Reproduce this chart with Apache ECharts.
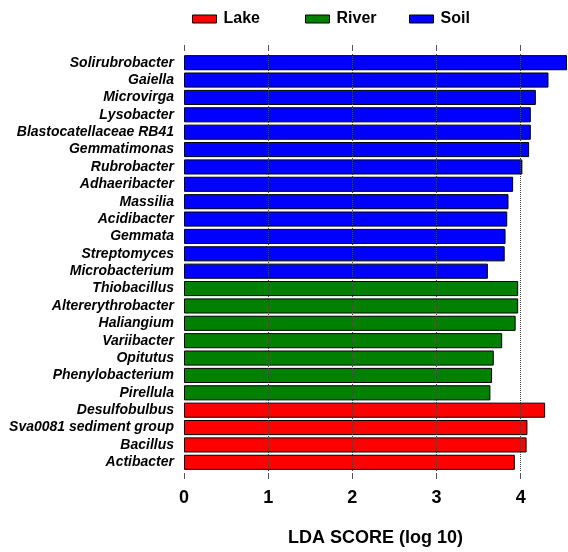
<!DOCTYPE html>
<html>
<head>
<meta charset="utf-8">
<script src="https://cdn.jsdelivr.net/npm/echarts@6/dist/echarts.min.js"></script>
<style>html,body{margin:0;padding:0;background:#fff;}#c{width:568px;height:552px;}</style>
</head>
<body>
<div id="c"></div>
<script>
var soilNames = ['Solirubrobacter','Gaiella','Microvirga','Lysobacter','Blastocatellaceae RB41','Gemmatimonas','Rubrobacter','Adhaeribacter','Massilia','Acidibacter','Gemmata','Streptomyces','Microbacterium'];
var soilValues = [4.55,4.33,4.18,4.12,4.12,4.10,4.02,3.91,3.855,3.84,3.82,3.81,3.61];
var riverNames = ['Thiobacillus','Altererythrobacter','Haliangium','Variibacter','Opitutus','Phenylobacterium','Pirellula'];
var riverValues = [3.97,3.97,3.94,3.78,3.68,3.66,3.64];
var lakeNames = ['Desulfobulbus','Sva0081 sediment group','Bacillus','Actibacter'];
var lakeValues = [4.29,4.08,4.07,3.93];
var xTicks = [0,1,2,3,4];

var categories = soilNames.concat(riverNames, lakeNames);
function fill(names, values){
  return categories.map(function(c){ var i = names.indexOf(c); return i >= 0 ? values[i] : '-'; });
}
var FONT = '"Liberation Sans", Arial, Helvetica, sans-serif';
var chart = echarts.init(document.getElementById('c'), null, {renderer:'canvas'});
function legend(name, left){
  return {data:[{name:name, icon:'rect'}], left:left, top:6, itemWidth:24, itemHeight:8, itemGap:0,
    textStyle:{fontFamily:FONT, fontWeight:'bold', fontSize:16, color:'#000', padding:[0,0,0,2]},
    itemStyle:{borderColor:'#000', borderWidth:1}};
}
function bar(name, color, names, values, extra){
  var s = {name:name, type:'bar', stack:'all', data:fill(names, values), barCategoryGap:'13%',
    itemStyle:{color:color, borderColor:'#000', borderWidth:1}, z:2};
  if (extra) {
    s.markLine = {silent:true, symbol:'none', label:{show:false}, z:5,
      lineStyle:{type:'dotted', color:'#444', width:1},
      emphasis:{disabled:true},
      data:xTicks.filter(function(v){return v > 0;}).map(function(v){ return {xAxis:v}; })};
  }
  return s;
}
chart.setOption({
  animation:false,
  legend:[legend('Lake',187), legend('River',300), legend('Soil',404)],
  grid:{left:184, right:1, top:54, bottom:81},
  xAxis:[{
    type:'value', min:0, max:4.55, position:'bottom', offset:2,
    axisLine:{show:false},
    axisTick:{show:true, length:6, customValues:xTicks, lineStyle:{color:'#555'}},
    axisLabel:{fontFamily:FONT, fontWeight:'bold', fontSize:18, color:'#000', margin:16, customValues:xTicks},
    splitLine:{show:false},
    name:'LDA SCORE (log 10)', nameLocation:'middle', nameGap:56,
    nameTextStyle:{fontFamily:FONT, fontWeight:'bold', fontSize:18, color:'#000'}
  },{
    type:'value', min:0, max:4.55, position:'top', offset:3,
    axisLine:{show:false},
    axisTick:{show:true, length:6, customValues:xTicks, lineStyle:{color:'#555'}},
    axisLabel:{show:false}, splitLine:{show:false}
  }],
  yAxis:{
    type:'category', data:categories, inverse:true,
    axisLine:{show:false}, axisTick:{show:false}, splitLine:{show:false},
    axisLabel:{interval:0, hideOverlap:false, fontFamily:FONT, fontWeight:'bold', fontStyle:'italic', fontSize:14, color:'#000', margin:10}
  },
  series:[
    bar('Lake','#ff0000', lakeNames, lakeValues),
    bar('River','#008000', riverNames, riverValues),
    bar('Soil','#0000ff', soilNames, soilValues, true)
  ]
});
</script>
</body>
</html>
